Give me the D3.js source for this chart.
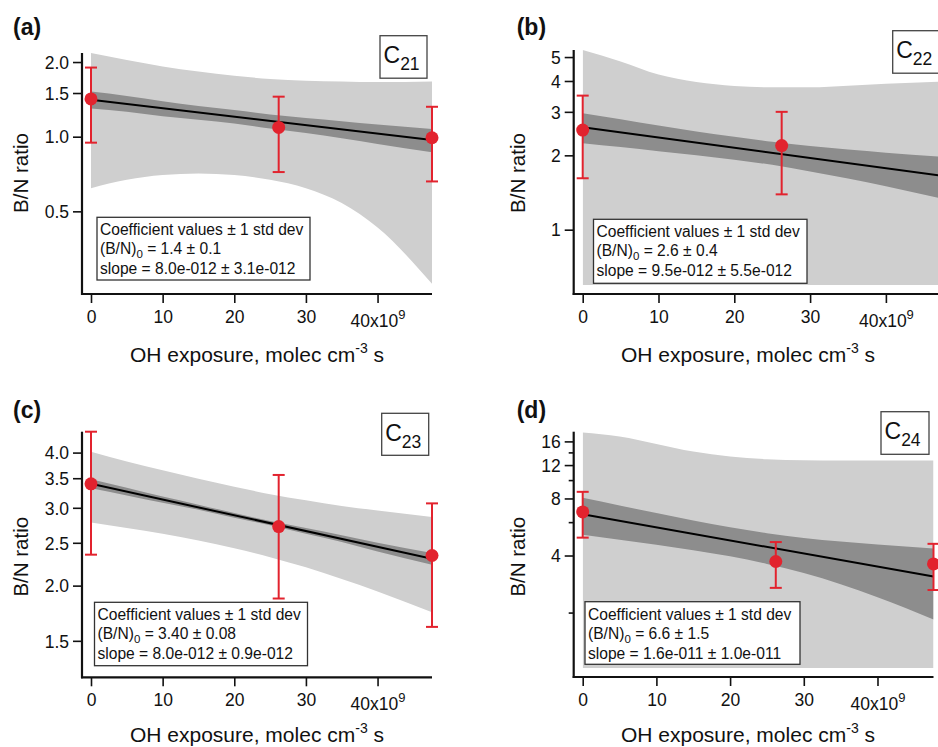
<!DOCTYPE html>
<html><head><meta charset="utf-8">
<script src="https://cdn.jsdelivr.net/npm/d3@7/dist/d3.min.js"></script>
<style>
body{margin:0;background:#fff}
svg{display:block}
text{font-family:"Liberation Sans",Arial,Helvetica,sans-serif;fill:#111}
</style></head>
<body><svg id="chart" width="938" height="747"></svg>
<script>
// ---------- DATA ----------
const xTicks = [0, 10, 20, 30, 40];
const bandX = [0, 5, 10, 15, 20, 25, 30, 35, 40, 47.6];
const fitX = [0, 47.6];
const pointX = [0, 26.2, 47.6];

// (a) C21
const aPointY = [1.42, 1.09, 0.99];
const aErrHi  = [1.90, 1.45, 1.32];
const aErrLo  = [0.946, 0.72, 0.66];
const aFitY   = [1.41, 0.97];
const aPredHi = [2.18, 2.04, 1.92, 1.83, 1.76, 1.71, 1.68, 1.67, 1.66, 1.67];
const aPredLo = [0.62, 0.67, 0.70, 0.71, 0.70, 0.67, 0.62, 0.54, 0.43, 0.255];
const aConfHi = [1.52, 1.46, 1.39, 1.33, 1.28, 1.23, 1.19, 1.155, 1.12, 1.075];
const aConfLo = [1.30, 1.26, 1.21, 1.17, 1.13, 1.08, 1.035, 0.985, 0.935, 0.865];
const aYTicks = [0.5, 1.0, 1.5, 2.0];
const aYDomain = [0.2523, 2.175];

// (b) C22
const bPointX = [0, 26.25];
const bPointY = [2.53, 2.19];
const bErrHi  = [3.49, 3.00];
const bErrLo  = [1.615, 1.39];
const bFitY   = [2.60, 1.65];
const bPredHi = [5.34, 4.80, 4.25, 3.96, 3.82, 3.77, 3.77, 3.83, 3.90, 3.98];
const bPredLo = [0.3, 0.3, 0.3, 0.3, 0.3, 0.3, 0.3, 0.3, 0.3, 0.3];
const bConfHi = [2.96, 2.80, 2.64, 2.50, 2.38, 2.27, 2.18, 2.11, 2.05, 1.97];
const bConfLo = [2.24, 2.16, 2.08, 2.00, 1.92, 1.83, 1.72, 1.61, 1.50, 1.33];
const bYTicks = [1, 2, 3, 4, 5];
const bYDomain = [0.597, 5.34];

// (c) C23
const cPointY = [3.40, 2.72, 2.34];
const cErrHi  = [4.48, 3.56, 3.07];
const cErrLo  = [2.35, 1.87, 1.613];
const cFitY   = [3.40, 2.30];
const cPredHi = [4.02, 3.82, 3.65, 3.49, 3.35, 3.22, 3.12, 3.03, 2.96, 2.86];
const cPredLo = [2.78, 2.70, 2.62, 2.53, 2.43, 2.32, 2.20, 2.07, 1.94, 1.74];
const cConfHi = [3.48, 3.33, 3.18, 3.05, 2.92, 2.80, 2.70, 2.60, 2.50, 2.37];
const cConfLo = [3.32, 3.20, 3.08, 2.97, 2.85, 2.74, 2.62, 2.51, 2.39, 2.23];
const cYTicks = [1.5, 2.0, 2.5, 3.0, 3.5, 4.0];
const cYDomain = [1.30, 4.46];

// (d) C24
const dPointY = [6.79, 3.72, 3.61];
const dErrHi  = [8.67, 4.71, 4.61];
const dErrLo  = [4.97, 2.70, 2.63];
const dFitY   = [6.60, 3.10];
const dPredHi = [17.8, 16.96, 15.51, 14.14, 13.30, 12.88, 12.72, 12.67, 12.67, 12.67];
const dPredLo = [0.5, 0.5, 0.5, 0.5, 0.5, 0.5, 0.5, 0.5, 0.5, 0.5];
const dConfHi = [8.06, 7.34, 6.70, 6.12, 5.64, 5.25, 4.95, 4.74, 4.57, 4.36];
const dConfLo = [5.14, 4.84, 4.56, 4.26, 3.96, 3.61, 3.23, 2.82, 2.41, 1.84];
const dYTicks = [4, 8, 12, 16];
const dYMinorTicks = [2, 6, 10, 14];
const dYDomain = [1.02, 18.0];

const panelLetters = ["(a)", "(b)", "(c)", "(d)"];
const compounds = ["21", "22", "23", "24"];
const coefLines = [
  ["1.4 ± 0.1", "8.0e-012 ± 3.1e-012"],
  ["2.6 ± 0.4", "9.5e-012 ± 5.5e-012"],
  ["3.40 ± 0.08", "8.0e-012 ± 0.9e-012"],
  ["6.6 ± 1.5", "1.6e-011 ± 1.0e-011"]
];

// ---------- LAYOUT ----------
const panels = [
  {px: pointX, py: aPointY, hi: aErrHi, lo: aErrLo, fit: aFitY, pH: aPredHi, pL: aPredLo, cH: aConfHi, cL: aConfLo,
   yt: aYTicks, minor: [], yd: aYDomain, fmt: d3.format(".1f"),
   L: 91, R: 432, T: 53, B: 285, lab: [13, 35], ytitle: [27.5, 173], xtitle: [257, 361.5],
   cbox: [380, 35.7, 47, 42.5], legend: [97, 217.3, 213, 62.7]},
  {px: bPointX, py: bPointY, hi: bErrHi, lo: bErrLo, fit: bFitY, pH: bPredHi, pL: bPredLo, cH: bConfHi, cL: bConfLo,
   yt: bYTicks, minor: [], yd: bYDomain, fmt: d3.format("d"),
   L: 582.7, R: 943.5, T: 50, B: 285, lab: [516.7, 35], ytitle: [525, 173], xtitle: [748, 361.5],
   cbox: [892.7, 30.7, 47, 42.5], legend: [593.5, 219.3, 213.5, 64]},
  {px: pointX, py: cPointY, hi: cErrHi, lo: cErrLo, fit: cFitY, pH: cPredHi, pL: cPredLo, cH: cConfHi, cL: cConfLo,
   yt: cYTicks, minor: [], yd: cYDomain, fmt: d3.format(".1f"),
   L: 91, R: 432, T: 431.7, B: 668.3, lab: [13, 418], ytitle: [27.5, 556.7], xtitle: [257, 741.5],
   cbox: [381.7, 413.3, 47, 42], legend: [94.5, 602.3, 213, 63.4]},
  {px: pointX, py: dPointY, hi: dErrHi, lo: dErrLo, fit: dFitY, pH: dPredHi, pL: dPredLo, cH: dConfHi, cL: dConfLo,
   yt: dYTicks, minor: dYMinorTicks, yd: dYDomain, fmt: d3.format("d"),
   L: 582.7, R: 933.5, T: 431.7, B: 668, lab: [516.7, 418], ytitle: [525, 556.7], xtitle: [748, 741.5],
   cbox: [881, 411.7, 48, 42.6], legend: [585, 601.7, 215, 62.6]}
];

const LIGHT = "#cfcfcf", DARK = "#8d8d8d", RED = "#e2232e";
const svg = d3.select("#chart");

panels.forEach((p, i) => {
  const g = svg.append("g");
  const x = d3.scaleLinear().domain([0, 47.6]).range([p.L, p.R]);
  const y = d3.scaleLog().domain(p.yd).range([p.B, p.T]).clamp(true);
  const axX = p.L - 9, axY = p.B + 9;

  const cid = "clip" + i;
  svg.append("clipPath").attr("id", cid).append("rect")
    .attr("x", p.L).attr("y", p.T).attr("width", p.R - p.L).attr("height", p.B - p.T);

  const area = (hiArr, loArr) => d3.area()
      .x((d, k) => x(bandX[k]))
      .y0((d, k) => y(loArr[k]))
      .y1((d, k) => y(hiArr[k]))
      .curve(d3.curveMonotoneX)(bandX);

  const bands = g.append("g").attr("clip-path", `url(#${cid})`);
  bands.append("path").attr("d", area(p.pH, p.pL)).attr("fill", LIGHT);
  bands.append("path").attr("d", area(p.cH, p.cL)).attr("fill", DARK);
  bands.append("path")
    .attr("d", d3.line().x((d, k) => x(fitX[k])).y(d => y(d))(p.fit))
    .attr("stroke", "#000").attr("stroke-width", 2).attr("fill", "none");

  // legend box (drawn above bands)
  const [lx, ly, lw, lh] = p.legend;
  g.append("rect").attr("x", lx).attr("y", ly).attr("width", lw).attr("height", lh)
    .attr("fill", "#fff").attr("stroke", "#333").attr("stroke-width", 1.3);
  const lt = g.append("g").attr("font-size", 15.6);
  lt.append("text").attr("x", lx + 3).attr("y", ly + 18).text("Coefficient values ± 1 std dev");
  const t2 = lt.append("text").attr("x", lx + 3).attr("y", ly + 37).text("(B/N)");
  t2.append("tspan").attr("font-size", 11.5).attr("dy", 4).text("0");
  t2.append("tspan").attr("dy", -4).text(" = " + coefLines[i][0]);
  lt.append("text").attr("x", lx + 3).attr("y", ly + 57).text("slope = " + coefLines[i][1]);

  // axes lines
  g.append("line").attr("x1", axX).attr("x2", axX).attr("y1", p.T).attr("y2", axY + 1)
    .attr("stroke", "#111").attr("stroke-width", 2.2);
  g.append("line").attr("x1", axX - 1).attr("x2", p.R).attr("y1", axY).attr("y2", axY)
    .attr("stroke", "#111").attr("stroke-width", 2.2);

  // y axis ticks
  const ya = d3.axisLeft(y).tickValues(p.yt).tickSize(9).tickPadding(4).tickFormat(p.fmt);
  const yg = g.append("g").attr("transform", `translate(${axX},0)`).call(ya);
  yg.select(".domain").remove();
  yg.selectAll(".tick line").attr("stroke", "#111").attr("stroke-width", 1.6);
  yg.selectAll(".tick text").attr("font-size", 17.5).attr("dy", "0.36em").attr("fill", "#111")
    .attr("font-family", '"Liberation Sans",Arial,sans-serif');
  if (p.minor.length) {
    const ym = d3.axisLeft(y).tickValues(p.minor).tickSize(5).tickFormat("");
    const ymg = g.append("g").attr("transform", `translate(${axX},0)`).call(ym);
    ymg.select(".domain").remove();
    ymg.selectAll(".tick line").attr("stroke", "#111").attr("stroke-width", 1.6);
  }

  // x axis ticks
  const xa = d3.axisBottom(x).tickValues(xTicks).tickSize(9).tickFormat(d3.format("d"));
  const xg = g.append("g").attr("transform", `translate(0,${axY})`).call(xa);
  xg.select(".domain").remove();
  xg.selectAll(".tick line").attr("stroke", "#111").attr("stroke-width", 1.6);
  xg.selectAll(".tick text").attr("font-size", 17.5).attr("y", 29).attr("dy", null).attr("fill", "#111")
    .attr("font-family", '"Liberation Sans",Arial,sans-serif');
  xg.selectAll(".tick text").filter(d => d === 40).each(function() {
    const t = d3.select(this);
    t.text("40x10").attr("y", 32.5);
    t.append("tspan").attr("font-size", 13).attr("dy", -8).text("9");
  });

  // error bars & points
  const eb = g.append("g").attr("stroke", RED).attr("stroke-width", 2);
  p.px.forEach((xv, k) => {
    const cx = x(xv);
    eb.append("line").attr("x1", cx).attr("x2", cx).attr("y1", y(p.hi[k])).attr("y2", y(p.lo[k]));
    eb.append("line").attr("x1", cx - 6).attr("x2", cx + 6).attr("y1", y(p.hi[k])).attr("y2", y(p.hi[k]));
    eb.append("line").attr("x1", cx - 6).attr("x2", cx + 6).attr("y1", y(p.lo[k])).attr("y2", y(p.lo[k]));
  });
  g.selectAll("circle.pt").data(p.py).join("circle").attr("class", "pt")
    .attr("cx", (d, k) => x(p.px[k])).attr("cy", d => y(d)).attr("r", 6.5).attr("fill", RED);

  // compound box
  const [bx, by, bw, bh] = p.cbox;
  g.append("rect").attr("x", bx).attr("y", by).attr("width", bw).attr("height", bh)
    .attr("fill", "#fff").attr("stroke", "#444").attr("stroke-width", 1.3);
  const ct = g.append("text").attr("x", bx + 3.5).attr("y", by + 27.5).attr("font-size", 23).text("C");
  ct.append("tspan").attr("font-size", 17.5).attr("dy", 7).text(compounds[i]);

  // panel letter
  g.append("text").attr("x", p.lab[0]).attr("y", p.lab[1]).attr("font-size", 23).attr("font-weight", "bold")
    .text(panelLetters[i]);

  // axis titles
  g.append("text").attr("transform", `translate(${p.ytitle[0]},${p.ytitle[1]}) rotate(-90)`)
    .attr("text-anchor", "middle").attr("font-size", 20.5).text("B/N ratio");
  const xt = g.append("text").attr("x", p.xtitle[0]).attr("y", p.xtitle[1])
    .attr("text-anchor", "middle").attr("font-size", 21).text("OH exposure, molec cm");
  xt.append("tspan").attr("font-size", 14).attr("dy", -9).text("-3");
  xt.append("tspan").attr("dy", 9).text(" s");
});
</script>
</body></html>
